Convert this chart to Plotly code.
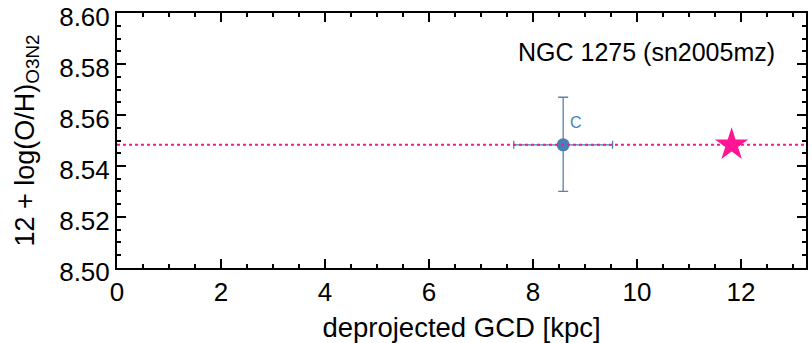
import plotly.graph_objects as go

# data
gcd = [8.58]
gcd_err = [0.95]
oh = [8.5483]
oh_err_plus = [0.0187]
oh_err_minus = [0.0183]
point_labels = ["C"]
sn_gcd = [11.82]
sn_oh = [8.5483]
title_text = "NGC 1275 (sn2005mz)"
x_range = [0, 13.25]
y_range = [8.4999, 8.6001]

fig = go.Figure()
fig.add_hline(y=sn_oh[0], line=dict(color="#FF1493", width=2, dash="dot"))
fig.add_trace(go.Scatter(
    x=gcd, y=oh, mode="markers",
    marker=dict(color="#4A7FB5", size=13),
    error_x=dict(type="data", array=gcd_err, color="#4A7FB5", thickness=1.3, width=4),
    error_y=dict(type="data", array=oh_err_plus, arrayminus=oh_err_minus, symmetric=False,
                 color="#5A80A8", thickness=1.3, width=5),
    showlegend=False))
fig.add_trace(go.Scatter(
    x=sn_gcd, y=sn_oh, mode="markers",
    marker=dict(color="#FF1493", size=25, symbol="star"),
    showlegend=False))
fig.add_annotation(x=gcd[0], y=oh[0], text=point_labels[0], showarrow=False,
                   xshift=13, yshift=22, font=dict(size=16, color="#4A7FB5"))
fig.add_annotation(x=0.958, y=0.847, xref="paper", yref="paper", text=title_text,
                   showarrow=False, xanchor="right", yanchor="middle",
                   font=dict(size=25, color="black"))

axis_common = dict(showgrid=False, zeroline=False, showline=True, linecolor="black",
                   linewidth=2, mirror="allticks", ticks="inside", ticklen=9, tickwidth=2,
                   tickcolor="black", tickfont=dict(size=26, color="black"), automargin=False,
                   ticklabeloverflow="allow")
fig.update_xaxes(range=x_range, dtick=2, tick0=0,
                 minor=dict(dtick=0.5, ticks="inside", ticklen=4, tickwidth=1.5, tickcolor="black"),
                 title=dict(text="deprojected GCD [kpc]", font=dict(size=27.5, color="black"), standoff=19),
                 **axis_common)
fig.update_yaxes(range=y_range, dtick=0.02, tick0=8.5, tickformat=".2f", ticklabelshift=4,
                 minor=dict(dtick=0.005, ticks="inside", ticklen=4, tickwidth=1.5, tickcolor="black"),
                 title=dict(text="12 + log(O/H)<sub>O3N2</sub>", font=dict(size=27, color="black"), standoff=17),
                 **axis_common)
fig.update_layout(width=812, height=343, margin=dict(l=117, r=6, t=13, b=75),
                  plot_bgcolor="white", paper_bgcolor="white",
                  font=dict(family="Liberation Sans, Arial, sans-serif"))
fig.write_html("out.html", config={"displayModeBar": False},
               post_script="document.body.style.margin='0';")
